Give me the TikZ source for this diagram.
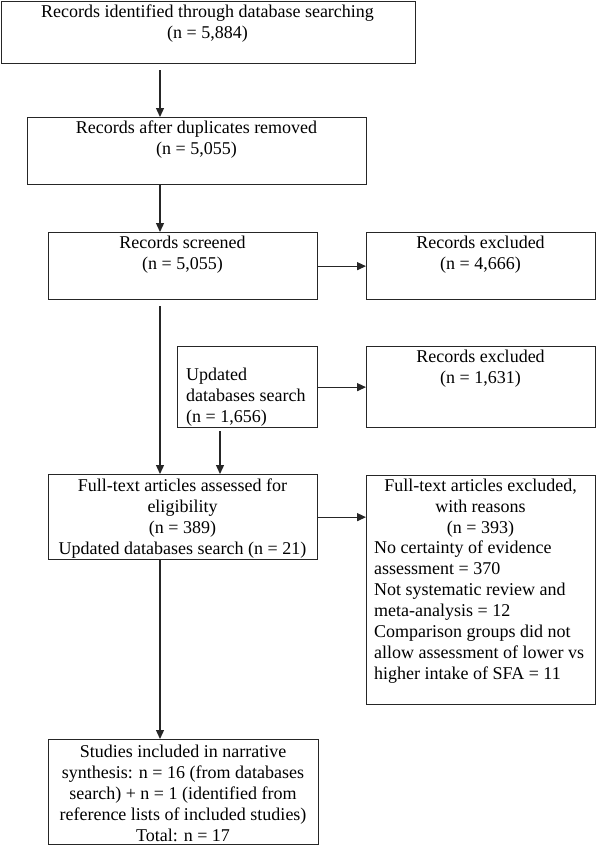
\documentclass[tikz,border=0pt]{standalone}
\usepackage{fontspec}
\setmainfont{Liberation Serif}
\usetikzlibrary{arrows.meta}
\tikzset{box/.style={draw=black!85, line width=1.3bp, inner sep=0pt, anchor=north west},
 txt/.style={align=center, inner sep=0pt, font=\fontsize{18bp}{21bp}\selectfont},
 arr/.style={draw=black!85, line width=1.3bp, -{Triangle[length=9bp,width=8bp]}},
 }

\begin{document}
\begin{tikzpicture}[x=1bp,y=-1bp]
        \useasboundingbox (0,0) rectangle (596,845);
        \coordinate (spine) at (160,0);
        \coordinate (side) at (220,0);
        % boxes
        \node[box, minimum width=414bp, minimum height=62bp] (ident) at (1,1) {};
        \node[box, minimum width=339bp, minimum height=67bp] (dup) at (27,117) {};
        \node[box, minimum width=269bp, minimum height=67bp] (screen) at (48,232) {};
        \node[box, minimum width=229bp, minimum height=67bp] (excla) at (366,232) {};
        \node[box, minimum width=140bp, minimum height=81bp] (upd) at (177,346) {};
        \node[box, minimum width=229bp, minimum height=81bp] (exclb) at (366,346) {};
        \node[box, minimum width=269bp, minimum height=85bp] (full) at (48,474) {};
        \node[box, minimum width=229bp, minimum height=229bp] (exclc) at (366,475) {};
        \node[box, minimum width=270bp, minimum height=105bp] (incl) at (48,739) {};
        % texts
        \node[txt] (identtxt) at (207.5,23.5) {Records identified through database searching\\(n = 5,884)};
        \node[txt] (duptxt) at (196.5,140) {Records after duplicates removed\\(n = 5,055)};
        \node[txt] (screentxt) at (182.5,255) {Records screened\\(n = 5,055)};
        \node[txt] (exclatxt) at (480.5,255) {Records excluded\\(n = 4,666)};
        \node[txt, align=left, anchor=west] (updtxt) at (186,397) {Updated\\databases search\\(n = 1,656)};
        \node[txt] (exclbtxt) at (480.5,368.5) {Records excluded\\(n = 1,631)};
        \node[txt] (fulltxt) at (182.5,519) {Full-text articles assessed for\\eligibility\\(n = 389)\\Updated databases search (n = 21)};
        \node[txt] (exclctxt) at (480.5,508.5) {Full-text articles excluded,\\with reasons\\(n = 393)};
        \node[txt, align=left, anchor=west] (reasons) at (374,612) {No certainty of evidence\\assessment = 370\\Not systematic review and\\meta-analysis = 12\\Comparison groups did not\\allow assessment of lower vs\\higher intake of SFA = 11};
        \node[txt] (incltxt) at (183,793) {Studies included in narrative\\synthesis: n = 16 (from databases\\search) + n = 1 (identified from\\reference lists of included studies)\\Total: n = 17};
        % arrows
        \draw[arr, shorten <=6bp] (ident.south -| spine) -- (dup.north -| spine);
        \draw[arr] (dup.south -| spine) -- (screen.north -| spine);
        \draw[arr] (screen.east) -- (excla.west);
        \draw[arr, shorten <=6bp] (screen.south -| spine) -- (full.north -| spine);
        \draw[arr] (upd.east) -- (exclb.west);
        \draw[arr, shorten <=3bp] (upd.south -| side) -- (full.north -| side);
        \draw[arr] (full.east) -- (full.east -| exclc.west);
        \draw[arr] (full.south -| spine) -- (incl.north -| spine);
    \end{tikzpicture}
\end{document}
